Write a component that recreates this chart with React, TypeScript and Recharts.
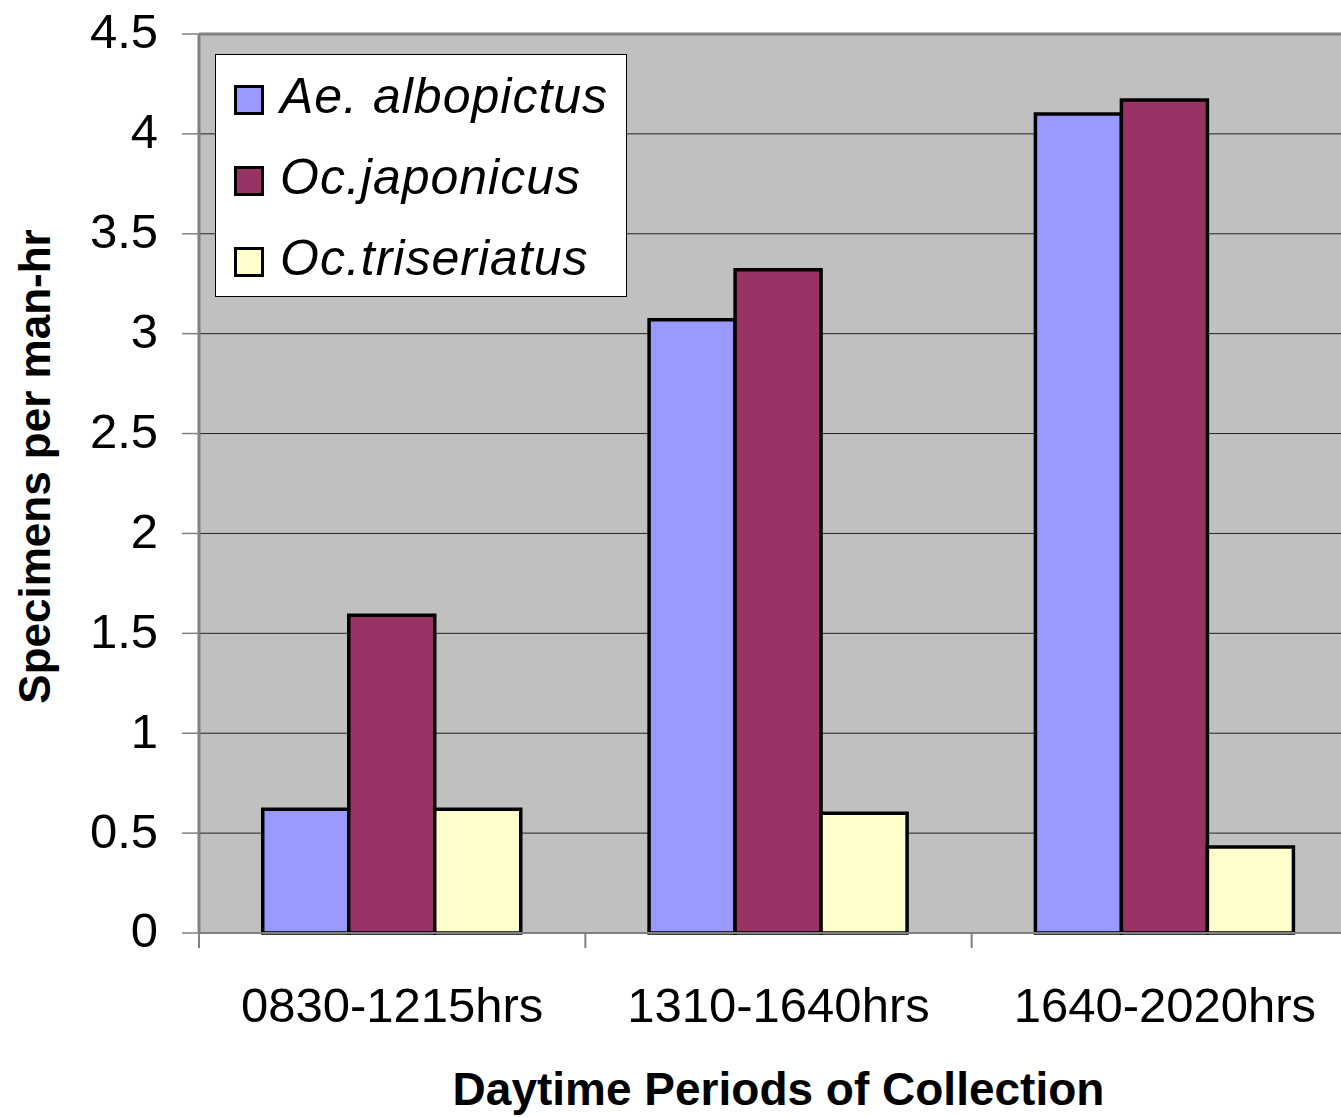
import React from 'react';
import { BarChart, Bar, XAxis, YAxis, CartesianGrid, ReferenceLine, Label } from 'recharts';

const categories = ['0830-1215hrs', '1310-1640hrs', '1640-2020hrs'];
const albopictus = [0.62, 3.07, 4.1];
const japonicus = [1.59, 3.32, 4.17];
const triseriatus = [0.62, 0.6, 0.43];
const yTicks = [0, 0.5, 1, 1.5, 2, 2.5, 3, 3.5, 4, 4.5];

const FONT = '"Liberation Sans", Arial, Helvetica, sans-serif';

const series = [
  { key: 'albopictus', name: 'Ae. albopictus', color: '#9999FF' },
  { key: 'japonicus', name: 'Oc.japonicus', color: '#993366' },
  { key: 'triseriatus', name: 'Oc.triseriatus', color: '#FFFFCC' },
];

const data = categories.map((period, i) => ({
  period,
  albopictus: albopictus[i],
  japonicus: japonicus[i],
  triseriatus: triseriatus[i],
}));

const XTick = (props: any) => {
  const { x, y, payload } = props;
  const half = payload?.offset ?? 0;
  return (
    <g>
      <line x1={x - half} x2={x - half} y1={y} y2={y + 15} stroke="#808080" strokeWidth={2} />
      <text x={x} y={y + 89} textAnchor="middle" fontSize={49} fontFamily={FONT} fill="#000">
        {payload.value}
      </text>
    </g>
  );
};

const LegendBox = () => (
  <div
    style={{
      position: 'absolute',
      left: 215,
      top: 54,
      width: 412,
      height: 243,
      boxSizing: 'border-box',
      background: '#fff',
      border: '1px solid #000',
      paddingTop: 4,
      fontFamily: FONT,
    }}
  >
    {series.map((s) => (
      <div key={s.key} style={{ height: 81, display: 'flex', alignItems: 'center' }}>
        <span
          style={{
            display: 'inline-block',
            width: 30,
            height: 30,
            boxSizing: 'border-box',
            background: s.color,
            border: '3px solid #000',
            marginLeft: 18,
            marginRight: 16,
          }}
        />
        <span
          style={{
            fontSize: 50,
            fontStyle: 'italic',
            letterSpacing: 1,
            whiteSpace: 'pre',
            color: '#000',
            position: 'relative',
            top: -4,
          }}
        >
          {s.name}
        </span>
      </div>
    ))}
  </div>
);

export default function App() {
  return (
    <div style={{ position: 'absolute', left: 0, top: 0, width: 1341, height: 1117, overflow: 'hidden', background: '#fff' }}>
      <BarChart
        width={1358}
        height={1117}
        data={data}
        margin={{ top: 34, right: 0, left: 0, bottom: 0 }}
        barCategoryGap="16.5%"
        barGap={0}
      >
        <CartesianGrid vertical={false} fill="#C0C0C0" fillOpacity={1} stroke="#222" strokeWidth={1} />
        <XAxis
          dataKey="period"
          height={184}
          axisLine={{ stroke: '#808080', strokeWidth: 2 }}
          tickLine={false}
          tickSize={0}
          tickMargin={0}
          interval={0}
          tick={<XTick />}
        >
          <Label
            content={(p: any) => {
              const vb = p.viewBox;
              return (
                <text
                  x={vb.x + vb.width / 2}
                  y={vb.y + 172}
                  textAnchor="middle"
                  fontSize={46}
                  fontWeight="bold"
                  fontFamily={FONT}
                  fill="#000"
                >
                  Daytime Periods of Collection
                </text>
              );
            }}
          />
        </XAxis>
        <YAxis
          width={199}
          domain={[0, 4.5]}
          ticks={yTicks}
          interval={0}
          axisLine={{ stroke: '#808080', strokeWidth: 3 }}
          tickLine={{ stroke: '#808080', strokeWidth: 1.5 }}
          tickSize={17}
          tickMargin={24}
          tick={{ fontSize: 49, fill: '#000', fontFamily: FONT, dy: -3 }}
        >
          <Label
            content={(p: any) => {
              const vb = p.viewBox;
              const cx = 50;
              const cy = vb.y + vb.height / 2 - 17;
              return (
                <text
                  x={cx}
                  y={cy}
                  transform={`rotate(-90 ${cx} ${cy})`}
                  textAnchor="middle"
                  fontSize={44}
                  fontWeight="bold"
                  fontFamily={FONT}
                  fill="#000"
                >
                  Specimens per man-hr
                </text>
              );
            }}
          />
        </YAxis>
        <ReferenceLine y={4.5} stroke="#808080" strokeWidth={3} />
        {series.map((s) => (
          <Bar
            key={s.key}
            dataKey={s.key}
            name={s.name}
            fill={s.color}
            stroke="#000"
            strokeWidth={3.5}
            isAnimationActive={false}
          />
        ))}
      </BarChart>
      <LegendBox />
    </div>
  );
}
